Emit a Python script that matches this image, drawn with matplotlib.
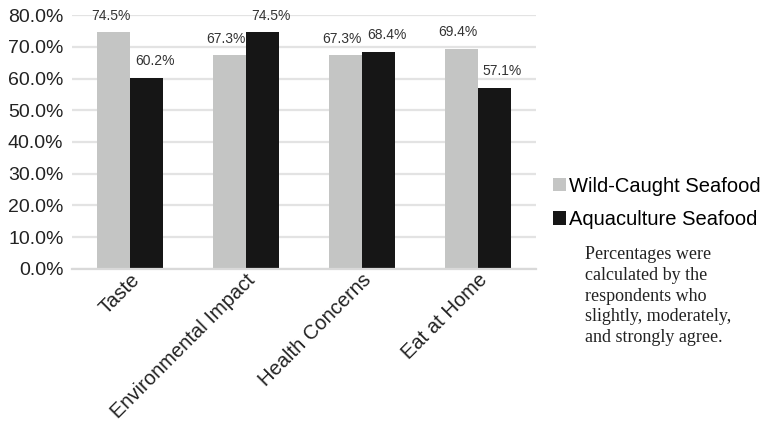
import matplotlib.pyplot as plt
import numpy as np

categories = ["Taste", "Environmental Impact", "Health Concerns", "Eat at Home"]
wild = [74.5, 67.3, 67.3, 69.4]
aqua = [60.2, 74.5, 68.4, 57.1]
series_names = ["Wild-Caught Seafood", "Aquaculture Seafood"]
note = "Percentages were\ncalculated by the\nrespondents who\nslightly, moderately,\nand strongly agree."

plt.rcParams['font.family'] = ['Liberation Sans', 'DejaVu Sans']

fig = plt.figure(figsize=(7.64, 4.29), dpi=100)
ax = fig.add_axes([0.094, 0.373, 0.607, 0.592])

x = np.arange(len(categories))
w = 0.285
b1 = ax.bar(x - w / 2, wild, w, color='#c4c5c4', label=series_names[0], zorder=2)
b2 = ax.bar(x + w / 2, aqua, w, color='#161616', label=series_names[1], zorder=2)

# gray labels sit a bit left, black labels a bit right (like the original)
for bars, dx in ((b1, -2), (b2, 6)):
    for rect in bars:
        h = rect.get_height()
        ax.annotate(f"{h:.1f}%", (rect.get_x() + rect.get_width() / 2, h),
                    xytext=(dx, 7), textcoords='offset points',
                    ha='center', va='bottom', fontsize=10, color='#333333')

ax.set_ylim(0, 80)
ax.set_xlim(-0.5, 3.5)
ax.set_yticks(np.arange(0, 81, 10))
ax.set_yticklabels([f"{v:.1f}%" for v in np.arange(0, 81, 10)], fontsize=14, color='#222222')
ax.set_xticks(x)
ax.set_xticklabels(categories, rotation=45, ha='right', rotation_mode='anchor',
                   fontsize=14.5, color='#222222')
ax.tick_params(length=0, pad=6)
ax.tick_params(axis='x', pad=1)
ax.grid(axis='y', color='#e3e3e3', linewidth=1.6, zorder=0)
for s in ['top', 'right', 'left']:
    ax.spines[s].set_visible(False)
ax.spines['bottom'].set_color('#d9d9d9')
ax.spines['bottom'].set_linewidth(1.6)

fig.legend(handles=[b1, b2], labels=series_names, loc='center left',
           bbox_to_anchor=(0.724, 0.527), frameon=False, fontsize=14.5,
           handlelength=0.65, handleheight=0.65, handletextpad=0.15, labelspacing=0.72,
           borderaxespad=0, borderpad=0)

fig.text(0.766, 0.426, note, family=['Liberation Serif', 'DejaVu Serif'],
         fontsize=13, va='top', ha='left', color='#222222', linespacing=1.28)

fig.savefig("out.png", dpi=100)
